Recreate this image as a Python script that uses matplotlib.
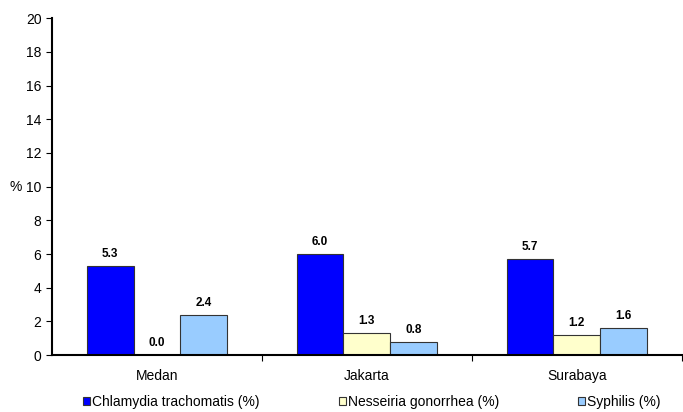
import numpy as np
import matplotlib
matplotlib.use('Agg')
import matplotlib.pyplot as plt

plt.rcParams['font.family'] = ['Liberation Sans', 'DejaVu Sans']

cities = ['Medan', 'Jakarta', 'Surabaya']
chlamydia = [5.3, 6.0, 5.7]
gonorrhea = [0.0, 1.3, 1.2]
syphilis = [2.4, 0.8, 1.6]
series_names = ['Chlamydia trachomatis (%)', 'Nesseiria gonorrhea (%)', 'Syphilis (%)']
colors = ['#0000FF', '#FFFFCC', '#99CCFF']

fig = plt.figure(figsize=(6.83, 4.12), dpi=100)
ax = fig.add_axes([0.076, 0.138, 0.922, 0.818])

x = np.arange(len(cities))
w = 0.222
for i, (vals, col, name) in enumerate(zip([chlamydia, gonorrhea, syphilis], colors, series_names)):
    pos = x + (i - 1) * w
    ax.bar(pos, vals, w, color=col, edgecolor='#333333', linewidth=0.8, label=name)
    for p, v in zip(pos, vals):
        ax.text(p, v + 0.35, f'{v:.1f}', ha='center', va='bottom', fontsize=8.5, fontweight='bold')

ax.set_xlim(-0.5, 2.5)
ax.set_ylim(0, 20)
ax.set_yticks(range(0, 21, 2))
ax.set_xticks(x)
ax.set_xticklabels(cities)
# small tick marks between city groups
ax.set_xticks([0.5, 1.5, 2.5], minor=True)
ax.tick_params(axis='x', which='major', length=0, pad=10, labelsize=10)
ax.tick_params(axis='x', which='minor', length=4, width=0.8, direction='out')
ax.tick_params(axis='y', length=4, width=0.8, labelsize=10)
ax.spines['top'].set_visible(False)
ax.spines['right'].set_visible(False)
ax.spines['left'].set_linewidth(1.5)
ax.spines['bottom'].set_linewidth(1.5)
ax.set_ylabel('%', rotation=0, fontsize=10, va='center', ha='center')
ax.yaxis.set_label_coords(-0.058, 0.5)

fig.legend(loc='center left', bbox_to_anchor=(83 / 683, 1 - 402 / 412), ncol=3, frameon=False,
           fontsize=10, handlelength=0.5, handleheight=0.5, handletextpad=0.15,
           columnspacing=5.7, borderpad=0, borderaxespad=0)

fig.savefig('out.png', dpi=100)
